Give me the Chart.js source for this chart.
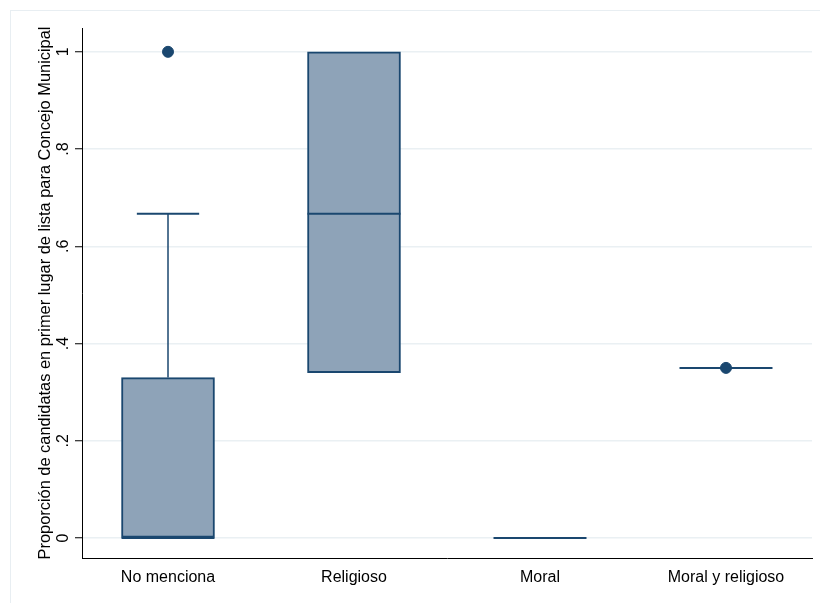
<!DOCTYPE html>
<html>
<head>
  <title>Box plot</title>
  <script src="https://cdn.jsdelivr.net/npm/chart.js"></script>
  <style>
    body { margin: 0; background: #fff; }
    #wrap { width: 820px; height: 603px; }
  </style>
</head>
<body>
  <div id="wrap"><canvas id="myChart"></canvas></div>
  <script>
    // datos
    var categories = ['No menciona', 'Religioso', 'Moral', 'Moral y religioso'];
    var q1 = [0, 0.34, 0, 0.35];
    var median = [0, 0.667, 0, 0.35];
    var q3 = [0.33, 1, 0, 0.35];
    var whiskerLow = [0, 0.34, 0, 0.35];
    var whiskerHigh = [0.667, 1, 0, 0.35];
    var outliers = [[1], [], [], [0.35]];
    var yTicks = [0, 0.2, 0.4, 0.6, 0.8, 1];
    var yTickLabels = ['0', '.2', '.4', '.6', '.8', '1'];
    var yTitle = 'Proporción de candidatas en primer lugar de lista para Concejo Municipal';

    var navy = '#1a476f';
    var boxFill = '#8ea3b8';

    var boxData = categories.map(function (c, i) { return { x: i + 1, y: [q1[i], q3[i]] }; });
    var outlierData = [];
    outliers.forEach(function (arr, i) {
      arr.forEach(function (v) { outlierData.push({ x: i + 1, y: v }); });
    });

    // fondo y marco exterior
    var frame = {
      id: 'frame',
      beforeDraw: function (chart) {
        var c = chart.ctx;
        c.save();
        c.fillStyle = '#ffffff';
        c.fillRect(0, 0, chart.width, chart.height);
        c.strokeStyle = '#e8eef2';
        c.lineWidth = 1;
        c.strokeRect(10.5, 10.5, chart.width, chart.height);
        c.restore();
      }
    };

    // medianas y bigotes
    var whiskers = {
      id: 'whiskers',
      afterDatasetDraw: function (chart, args) {
        if (args.index !== 0) return;
        var c = chart.ctx;
        var xs = chart.scales.x, ys = chart.scales.y;
        var bars = chart.getDatasetMeta(0).data;
        c.save();
        c.strokeStyle = navy;
        c.lineCap = 'butt';
        categories.forEach(function (cat, i) {
          var cx = xs.getPixelForValue(i + 1);
          var hw = bars[i].width / 2;
          var capW = hw * 0.67;
          // bigote superior
          if (whiskerHigh[i] > q3[i]) {
            c.lineWidth = 1.5;
            c.beginPath();
            c.moveTo(cx, ys.getPixelForValue(q3[i]));
            c.lineTo(cx, ys.getPixelForValue(whiskerHigh[i]));
            c.stroke();
            c.lineWidth = 2;
            c.beginPath();
            c.moveTo(cx - capW, ys.getPixelForValue(whiskerHigh[i]));
            c.lineTo(cx + capW, ys.getPixelForValue(whiskerHigh[i]));
            c.stroke();
          }
          // bigote inferior
          if (whiskerLow[i] < q1[i]) {
            c.lineWidth = 1.5;
            c.beginPath();
            c.moveTo(cx, ys.getPixelForValue(q1[i]));
            c.lineTo(cx, ys.getPixelForValue(whiskerLow[i]));
            c.stroke();
            c.lineWidth = 2;
            c.beginPath();
            c.moveTo(cx - capW, ys.getPixelForValue(whiskerLow[i]));
            c.lineTo(cx + capW, ys.getPixelForValue(whiskerLow[i]));
            c.stroke();
          }
          // mediana
          c.lineWidth = 2;
          c.beginPath();
          c.moveTo(cx - hw, ys.getPixelForValue(median[i]));
          c.lineTo(cx + hw, ys.getPixelForValue(median[i]));
          c.stroke();
        });
        c.restore();
      }
    };

    var ctx = document.getElementById('myChart').getContext('2d');
    var myChart = new Chart(ctx, {
      type: 'bar',
      data: {
        datasets: [
          {
            data: boxData,
            backgroundColor: boxFill,
            borderColor: navy,
            borderWidth: 2,
            borderSkipped: false,
            barThickness: 93,
            order: 1
          },
          {
            type: 'scatter',
            data: outlierData,
            backgroundColor: navy,
            borderColor: navy,
            pointRadius: 5.5,
            order: 0
          }
        ]
      },
      options: {
        responsive: true,
        maintainAspectRatio: false,
        animation: false,
        layout: { padding: { left: 0, top: 28, right: 8, bottom: 0 } },
        plugins: { legend: { display: false }, tooltip: { enabled: false } },
        scales: {
          x: {
            type: 'linear',
            offset: false,
            min: 0.5376,
            max: 4.4624,
            grid: { display: false, drawTicks: false },
            border: { color: '#000', width: 1 },
            afterBuildTicks: function (s) { s.ticks = categories.map(function (c, i) { return { value: i + 1 }; }); },
            afterFit: function (s) { s.height = 45; },
            ticks: {
              padding: 10,
              color: '#000',
              maxRotation: 0,
              autoSkip: false,
              font: { family: 'Liberation Sans', size: 16 },
              callback: function (v) { return categories[Math.round(v) - 1]; }
            }
          },
          y: {
            min: -0.041,
            max: 1.049,
            grid: { color: '#eaf0f3', lineWidth: 1.5, tickColor: '#000', tickLength: 7, tickWidth: 1 },
            border: { color: '#000', width: 1 },
            afterBuildTicks: function (s) { s.ticks = yTicks.map(function (v) { return { value: v }; }); },
            afterFit: function (s) { s.width = 82; },
            title: {
              display: true,
              text: yTitle,
              color: '#000',
              font: { family: 'Liberation Sans', size: 16.4 },
              padding: { top: 36, bottom: 0 }
            },
            ticks: {
              minRotation: 90,
              maxRotation: 90,
              crossAlign: 'center',
              padding: 5,
              color: '#000',
              font: { family: 'Liberation Sans', size: 16 },
              callback: function (v) { return yTickLabels[yTicks.indexOf(v)]; }
            }
          }
        }
      },
      plugins: [frame, whiskers]
    });
  </script>
</body>
</html>
